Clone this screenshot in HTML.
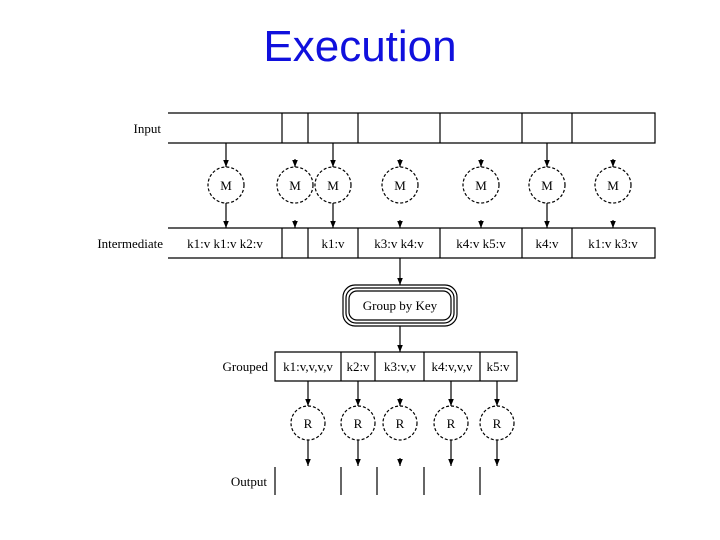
<!DOCTYPE html>
<html><head><meta charset="utf-8"><style>
html,body{margin:0;padding:0;background:#fff;}
svg{display:block;}
text{font-family:"Liberation Serif",serif;fill:#000;}
</style></head><body>
<svg width="720" height="540" viewBox="0 0 720 540" xmlns="http://www.w3.org/2000/svg">
<defs>
<marker id="a" viewBox="0 0 10 10" refX="10" refY="5" markerWidth="7" markerHeight="7" orient="auto" markerUnits="userSpaceOnUse"><path d="M0,1 L10,5 L0,9 z" fill="#000"/></marker>
</defs>
<text x="360" y="61" text-anchor="middle" style="font-family:'Liberation Sans',sans-serif;font-size:44px;fill:#1010dd">Execution</text>

<g stroke="#000" stroke-width="1.2" fill="none">
<path d="M168 113H655V143H168M282 113V143M308 113V143M358 113V143M440 113V143M522 113V143M572 113V143"/>
<path d="M168 228H655V258H168M282 228V258M308 228V258M358 228V258M440 228V258M522 228V258M572 228V258"/>
<g stroke-dasharray="3,2">
<circle cx="226" cy="185" r="18"/><circle cx="295" cy="185" r="18"/><circle cx="333" cy="185" r="18"/>
<circle cx="400" cy="185" r="18"/><circle cx="481" cy="185" r="18"/><circle cx="547" cy="185" r="18"/><circle cx="613" cy="185" r="18"/>
<circle cx="308" cy="423" r="17"/><circle cx="358" cy="423" r="17"/><circle cx="400" cy="423" r="17"/><circle cx="451" cy="423" r="17"/><circle cx="497" cy="423" r="17"/>
</g>
<g marker-end="url(#a)">
<line x1="226" y1="143" x2="226" y2="167"/><line x1="333" y1="143" x2="333" y2="167"/><line x1="547" y1="143" x2="547" y2="167"/>
<line x1="295" y1="159" x2="295" y2="167"/><line x1="400" y1="159" x2="400" y2="167"/><line x1="481" y1="159" x2="481" y2="167"/><line x1="613" y1="159" x2="613" y2="167"/>
<line x1="226" y1="203" x2="226" y2="228"/><line x1="333" y1="203" x2="333" y2="228"/><line x1="547" y1="203" x2="547" y2="228"/>
<line x1="295" y1="220" x2="295" y2="228"/><line x1="400" y1="220" x2="400" y2="228"/><line x1="481" y1="220" x2="481" y2="228"/><line x1="613" y1="220" x2="613" y2="228"/>
<line x1="400" y1="258" x2="400" y2="285"/><line x1="400" y1="326" x2="400" y2="352"/>
<line x1="308" y1="381" x2="308" y2="406"/><line x1="358" y1="381" x2="358" y2="406"/><line x1="451" y1="381" x2="451" y2="406"/><line x1="497" y1="381" x2="497" y2="406"/>
<line x1="400" y1="398" x2="400" y2="406"/>
<line x1="308" y1="440" x2="308" y2="466"/><line x1="358" y1="440" x2="358" y2="466"/><line x1="451" y1="440" x2="451" y2="466"/><line x1="497" y1="440" x2="497" y2="466"/>
<line x1="400" y1="458" x2="400" y2="466"/>
</g>
<rect x="343" y="285" width="114" height="41" rx="12"/>
<rect x="346" y="288" width="108" height="35" rx="10"/>
<rect x="349" y="291" width="102" height="29" rx="8"/>
<path d="M275 352H517V381H275ZM341 352V381M375 352V381M424 352V381M480 352V381"/>
<path d="M275 467V495M341 467V495M377 467V495M424 467V495M480 467V495"/>
</g>

<g font-size="13">
<text x="161" y="133" text-anchor="end">Input</text>
<text x="163" y="248" text-anchor="end">Intermediate</text>
<text x="225" y="248" text-anchor="middle">k1:v k1:v k2:v</text>
<text x="333" y="248" text-anchor="middle">k1:v</text>
<text x="399" y="248" text-anchor="middle">k3:v k4:v</text>
<text x="481" y="248" text-anchor="middle">k4:v k5:v</text>
<text x="547" y="248" text-anchor="middle">k4:v</text>
<text x="613" y="248" text-anchor="middle">k1:v k3:v</text>
<text x="400" y="310" text-anchor="middle">Group by Key</text>
<text x="268" y="371" text-anchor="end">Grouped</text>
<text x="308" y="371" text-anchor="middle">k1:v,v,v,v</text>
<text x="358" y="371" text-anchor="middle">k2:v</text>
<text x="400" y="371" text-anchor="middle">k3:v,v</text>
<text x="452" y="371" text-anchor="middle">k4:v,v,v</text>
<text x="498" y="371" text-anchor="middle">k5:v</text>
<text x="267" y="486" text-anchor="end">Output</text>
</g>
<g font-size="13" text-anchor="middle" style="font-family:'Liberation Sans',sans-serif">
<text x="226" y="190">M</text><text x="295" y="190">M</text><text x="333" y="190">M</text><text x="400" y="190">M</text><text x="481" y="190">M</text><text x="547" y="190">M</text><text x="613" y="190">M</text>
</g>
<g font-size="13" text-anchor="middle">
<text x="308" y="428">R</text><text x="358" y="428">R</text><text x="400" y="428">R</text><text x="451" y="428">R</text><text x="497" y="428">R</text>
</g>
</svg>
</body></html>
